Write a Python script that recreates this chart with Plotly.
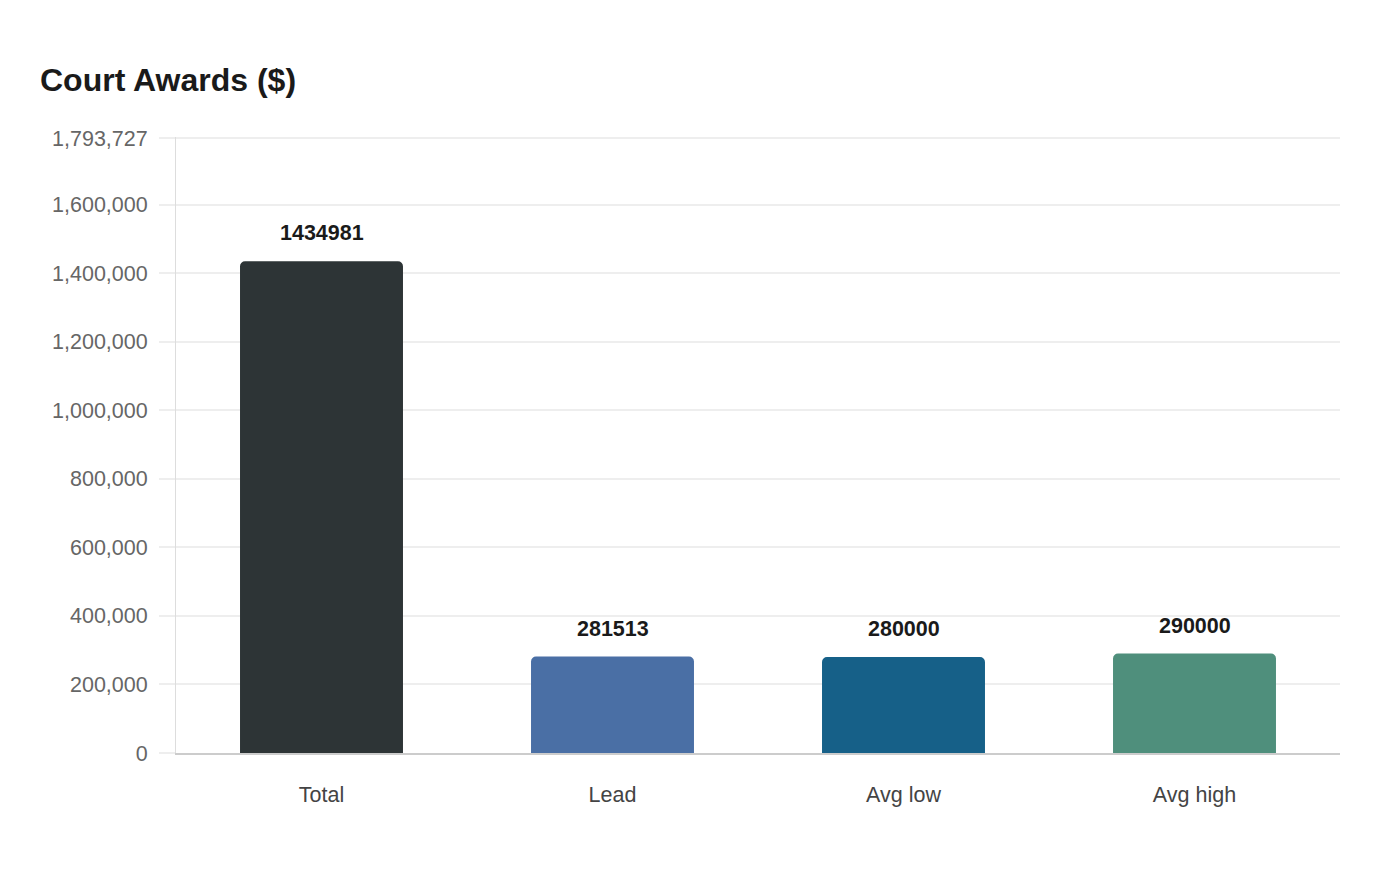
import plotly.graph_objects as go

categories = ["Total", "Lead", "Avg low", "Avg high"]
values = [1434981, 281513, 280000, 290000]
colors = ["#2d3436", "#4a6fa5", "#166088", "#4f8f7c"]
y_max = 1793727
y_ticks = [0, 200000, 400000, 600000, 800000, 1000000, 1200000, 1400000, 1600000, y_max]
y_tick_text = [f"{v:,}" for v in y_ticks]

FONT = "Liberation Sans, Arial, sans-serif"

# page body has an 8px margin, so the figure is sized to fit inside it
W, H = 1384, 864

fig = go.Figure(
    go.Bar(
        x=categories,
        y=values,
        marker_color=colors,
        marker_line_width=0,
        width=0.56,
        hoverinfo="x+y",
    )
)

# value labels sit a bit higher than plotly's "outside" text
for cat, val in zip(categories, values):
    fig.add_annotation(
        x=cat, y=val, text=f"<b>{val}</b>", showarrow=False,
        yshift=28, font=dict(family=FONT, size=21.5, color="#1a1a1a"),
    )

fig.update_layout(
    width=W,
    height=H,
    margin=dict(l=168, r=52, t=129, b=119),
    paper_bgcolor="#fff",
    plot_bgcolor="#fff",
    font=dict(family=FONT, size=21.5, color="#444"),
    barcornerradius=5,
    showlegend=False,
    title=dict(
        text="<b>Court Awards ($)</b>",
        x=32 / W, xanchor="left", xref="container",
        y=1 - 72 / H, yanchor="middle", yref="container",
        font=dict(family=FONT, size=32, color="#1a1a1a"),
    ),
)
fig.update_xaxes(
    showgrid=False,
    showline=True, linecolor="#cccccc", linewidth=1.5,
    ticks="outside", ticklen=21, tickcolor="rgba(0,0,0,0)",
    tickfont=dict(size=21.5, color="#444"),
)
fig.update_yaxes(
    # tiny headroom so the top gridline at the max value is still drawn
    range=[0, y_max * 1.002],
    tickvals=y_ticks, ticktext=y_tick_text,
    showgrid=True, gridcolor="#eeeeee", gridwidth=2,
    showline=True, linecolor="#dddddd", linewidth=1,
    ticks="outside", ticklen=16, tickcolor="#eeeeee", tickwidth=2,
    ticklabelstandoff=7,
    tickfont=dict(size=21.5, color="#666"),
    zeroline=False,
)

fig.write_html("out.html")
